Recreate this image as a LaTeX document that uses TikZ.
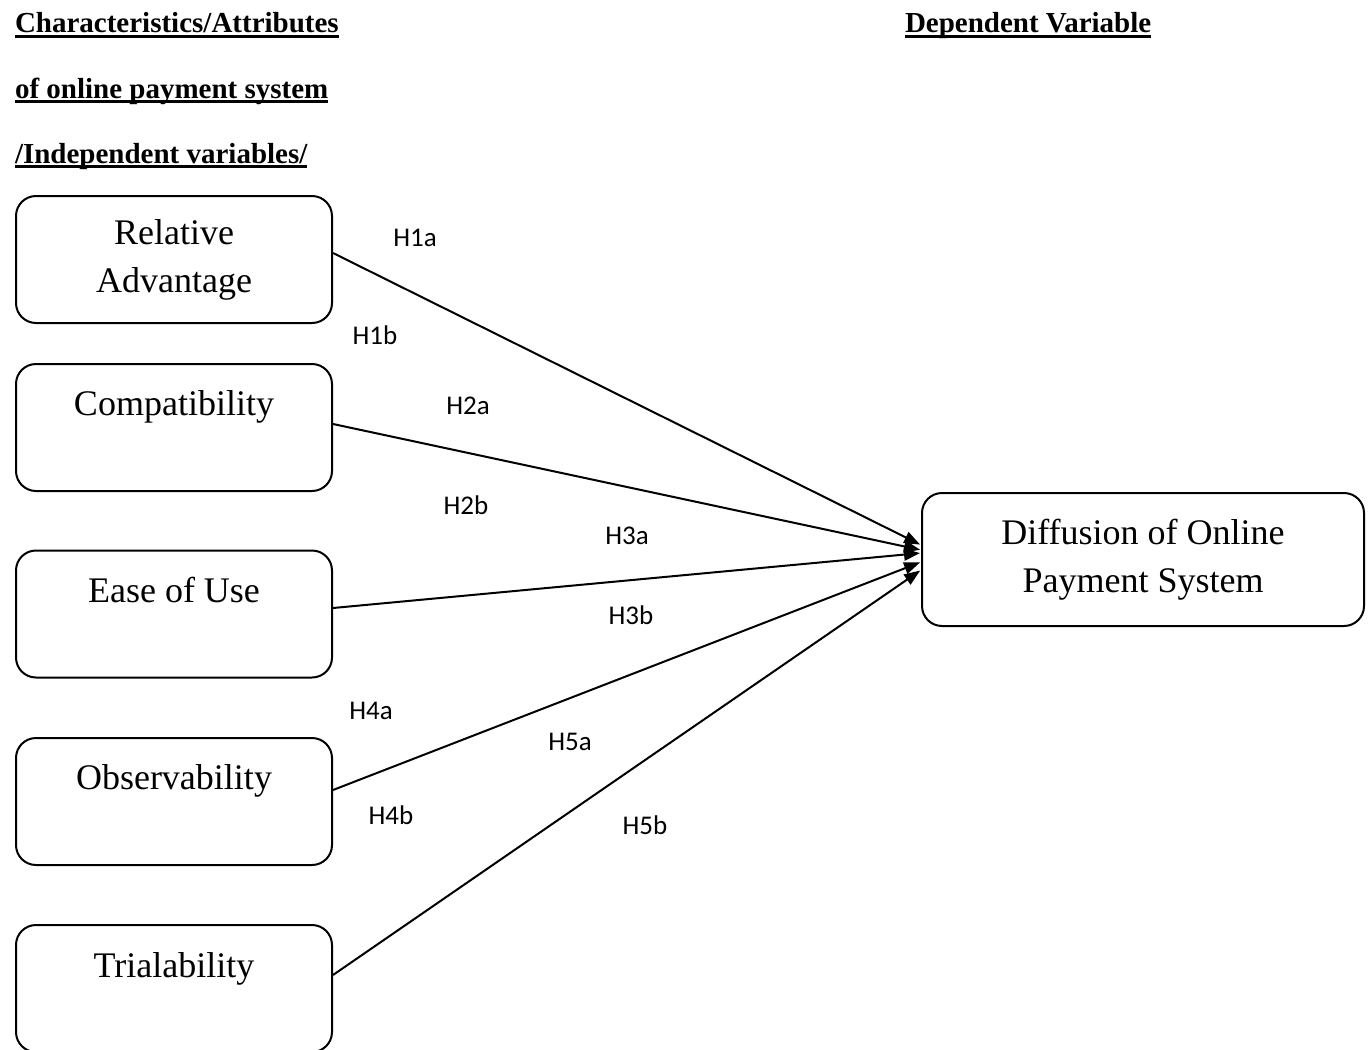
\documentclass[tikz,border=0pt]{standalone}
\usepackage{fontspec}
\setmainfont{Liberation Serif}
\newfontfamily\hypfont{Carlito}
\newcommand{\headul}[1]{\sbox0{#1}\makebox[0pt][l]{\rule[-4.8pt]{\wd0}{3pt}}\usebox0}
\usetikzlibrary{arrows.meta}

\begin{document}
\begin{tikzpicture}[x=1pt,y=-1pt,->,>={Triangle[length=16pt,width=12pt]},shorten >=1pt,
  line width=2pt,
  var node/.style={draw,rounded corners=20pt,minimum width=316pt,minimum height=127pt,
    align=center,inner sep=0pt,font=\fontsize{36}{48}\selectfont},
  head node/.style={anchor=base west,inner sep=0pt,font=\bfseries\fontsize{29}{34}\selectfont},
  hyp node/.style={inner sep=0pt,font=\hypfont\fontsize{27}{32}\selectfont}]

 \useasboundingbox (0,0) rectangle (1370,1049);

 % headings
 \node[head node] (title1) at (14,33)  {\headul{Characteristics/Attributes}};
 \node[head node] (title2) at (14,98)  {\headul{of online payment system}};
 \node[head node] (title3) at (14,163) {\headul{/Independent variables/}};
 \node[head node] (title4) at (904,33) {\headul{Dependent Variable}};

 % variables
 \node[var node] (ra)    at (174,259.5) {Relative\\Advantage};
 \node[var node] (comp)  at (174,427.5) {Compatibility\\\mbox{}};
 \node[var node] (ease)  at (174,614)   {Ease of Use\\\mbox{}};
 \node[var node] (obs)   at (174,801.5) {Observability\\\mbox{}};
 \node[var node] (trial) at (174,988.5) {Trialability\\\mbox{}};
 \node[var node,minimum width=442pt,minimum height=133pt] (dops) at (1143,559.5)
   {Diffusion of Online\\Payment System};

 % hypotheses
 \node[hyp node] (l1a) at (415,238) {H1a};
 \node[hyp node] (l1b) at (375,335) {H1b};
 \node[hyp node] (l2a) at (468,406) {H2a};
 \node[hyp node] (l2b) at (466,505) {H2b};
 \node[hyp node] (l3a) at (627,536) {H3a};
 \node[hyp node] (l3b) at (631,615) {H3b};
 \node[hyp node] (l4a) at (371,711) {H4a};
 \node[hyp node] (l4b) at (391,815) {H4b};
 \node[hyp node] (l5a) at (570,742) {H5a};
 \node[hyp node] (l5b) at (645,825) {H5b};

 \draw ([yshift=6.5pt]ra.east)    -- ([yshift=14.5pt]dops.west);
 \draw ([yshift=3.5pt]comp.east)  -- ([yshift=9.5pt]dops.west);
 \draw ([yshift=6pt]ease.east)    -- ([yshift=6.5pt]dops.west);
 \draw ([yshift=11.5pt]obs.east)  -- ([yshift=-2.5pt]dops.west);
 \draw ([yshift=13.5pt]trial.east) -- ([yshift=-10.5pt]dops.west);

\end{tikzpicture}
\end{document}
